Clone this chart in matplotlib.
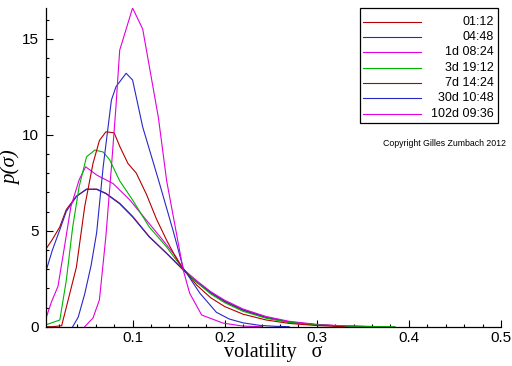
import matplotlib
matplotlib.use("Agg")
import matplotlib.pyplot as plt
from matplotlib.lines import Line2D
from matplotlib.patches import Rectangle
from matplotlib.ticker import MultipleLocator

plt.rcParams['font.family'] = 'Liberation Sans'

# volatility distributions, one per time horizon
sig_0112 = [0.006, 0.013, 0.021, 0.028, 0.039, 0.05, 0.061, 0.071, 0.086, 0.1, 0.118,
            0.137, 0.155, 0.17, 0.185, 0.2, 0.22, 0.245, 0.27, 0.3, 0.33, 0.36]
p_0112 = [4.05, 4.55, 5.2, 6.1, 6.8, 7.15, 7.17, 6.95, 6.43, 5.75, 4.7,
          3.82, 2.95, 2.3, 1.75, 1.3, 0.85, 0.47, 0.24, 0.1, 0.03, 0.0]

sig_0448 = [0.006, 0.013, 0.021, 0.028, 0.039, 0.05, 0.061, 0.071, 0.086, 0.1, 0.118,
            0.137, 0.155, 0.17, 0.185, 0.2, 0.22, 0.245, 0.27, 0.3, 0.33, 0.36]
p_0448 = [2.9, 4.0, 5.05, 6.0, 6.78, 7.17, 7.15, 6.93, 6.4, 5.72, 4.68,
          3.82, 2.97, 2.33, 1.78, 1.33, 0.88, 0.49, 0.25, 0.1, 0.03, 0.0]

sig_1d = [0.006, 0.012, 0.019, 0.026, 0.033, 0.042, 0.049, 0.061, 0.079, 0.097, 0.115,
          0.133, 0.147, 0.155, 0.17, 0.185, 0.2, 0.22, 0.245, 0.27, 0.3, 0.33, 0.36]
p_1d = [0.44, 1.3, 2.1, 4.15, 6.25, 7.65, 8.33, 7.9, 7.45, 6.6, 5.55,
        4.5, 3.65, 3.0, 2.38, 1.82, 1.38, 0.92, 0.53, 0.28, 0.12, 0.04, 0.01]

sig_3d = [0.006, 0.021, 0.028, 0.035, 0.042, 0.05, 0.059, 0.068, 0.075, 0.086, 0.1,
          0.118, 0.137, 0.147, 0.155, 0.17, 0.185, 0.2, 0.22, 0.245, 0.27, 0.3, 0.33,
          0.36, 0.385]
p_3d = [0.1, 0.35, 2.4, 5.2, 7.3, 8.85, 9.2, 9.1, 8.7, 7.6, 6.6,
        5.2, 4.15, 3.5, 3.0, 2.3, 1.7, 1.25, 0.8, 0.44, 0.22, 0.09, 0.03,
        0.01, 0.0]

sig_7d = [0.006, 0.013, 0.023, 0.028, 0.039, 0.048, 0.057, 0.064, 0.071, 0.08, 0.086,
          0.095, 0.104, 0.115, 0.126, 0.137, 0.147, 0.155, 0.17, 0.185, 0.2, 0.22,
          0.245, 0.27, 0.3, 0.33]
p_7d = [0.0, 0.0, 0.05, 1.0, 3.1, 6.25, 8.5, 9.7, 10.15, 10.1, 9.4,
        8.5, 8.0, 6.9, 5.6, 4.5, 3.6, 3.0, 2.15, 1.5, 1.05, 0.65,
        0.35, 0.17, 0.06, 0.0]

sig_30d = [0.035, 0.041, 0.048, 0.055, 0.061, 0.068, 0.077, 0.082, 0.093, 0.1, 0.111,
           0.129, 0.144, 0.155, 0.173, 0.191, 0.205, 0.22, 0.238, 0.255, 0.27]
p_30d = [0.0, 0.5, 1.7, 3.2, 4.9, 8.3, 11.8, 12.5, 13.2, 12.85, 10.4,
         7.5, 5.0, 3.05, 1.75, 0.75, 0.4, 0.2, 0.07, 0.02, 0.0]

sig_102d = [0.048, 0.057, 0.064, 0.071, 0.077, 0.082, 0.086, 0.1, 0.111, 0.128, 0.137,
            0.155, 0.162, 0.175, 0.198, 0.22, 0.24]
p_102d = [0.0, 0.45, 1.4, 4.7, 8.3, 11.5, 14.4, 16.6, 15.5, 10.9, 7.6,
          2.95, 1.74, 0.61, 0.19, 0.03, 0.0]

labels = ["01:12", "04:48", "1d 08:24", "3d 19:12", "7d 14:24", "30d 10:48", "102d 09:36"]
colors = ["#b40000", "#2828c8", "#e000e0", "#00b400", "#b40000", "#2828c8", "#e000e0"]

curves = [(sig_0112, p_0112), (sig_0448, p_0448), (sig_1d, p_1d), (sig_3d, p_3d),
          (sig_7d, p_7d), (sig_30d, p_30d), (sig_102d, p_102d)]

fig = plt.figure(figsize=(5.12, 3.66), dpi=100)
ax = fig.add_axes((46 / 512, 39.3 / 366, 455 / 512, 318.7 / 366))

for (s, p), c in zip(curves, colors):
    ax.plot(s, p, color=c, lw=0.8)

ax.set_xlim(0.006, 0.5)
ax.set_ylim(0, 16.6)
ax.spines['top'].set_visible(False)
ax.spines['right'].set_visible(False)
for sp in ['left', 'bottom']:
    ax.spines[sp].set_linewidth(0.9)

ax.xaxis.set_major_locator(MultipleLocator(0.1))
ax.xaxis.set_minor_locator(MultipleLocator(0.02))
ax.yaxis.set_major_locator(MultipleLocator(5))
ax.yaxis.set_minor_locator(MultipleLocator(1))
ax.tick_params(which='both', direction='in', width=0.8, labelsize=11)
ax.tick_params(axis='x', pad=3)
ax.tick_params(axis='y', pad=5)
ax.tick_params(which='major', length=5)
ax.tick_params(which='minor', length=2.5)
ax.set_xticks([0.1, 0.2, 0.3, 0.4, 0.5])
ax.set_xticklabels(["0.1", "0.2", "0.3", "0.4", "0.5"])

ax.set_xlabel("volatility   σ", fontsize=14.5, family='Liberation Serif', labelpad=-1)
ax.set_ylabel("p(σ)", fontsize=15, family='Liberation Serif', style='italic')
ax.yaxis.set_label_coords(-0.055, 0.5)

# legend box, drawn by hand so the labels sit right aligned
fig.patches.append(Rectangle((360 / 512, 1 - 123 / 366), 138 / 512, 115 / 366,
                             transform=fig.transFigure, fill=False, lw=0.9, ec='black'))
for i, (lab, c) in enumerate(zip(labels, colors)):
    yy = 1 - (21.7 + 15.3 * i) / 366
    fig.add_artist(Line2D([363 / 512, 421 / 512], [yy, yy], color=c, lw=0.8,
                          transform=fig.transFigure))
    fig.text(494 / 512, yy, lab, ha='right', va='center', fontsize=9)

fig.text(383 / 512, 1 - 143 / 366, "Copyright Gilles Zumbach 2012", fontsize=6.3,
         ha='left', va='center')

fig.savefig("out.png", dpi=100)
